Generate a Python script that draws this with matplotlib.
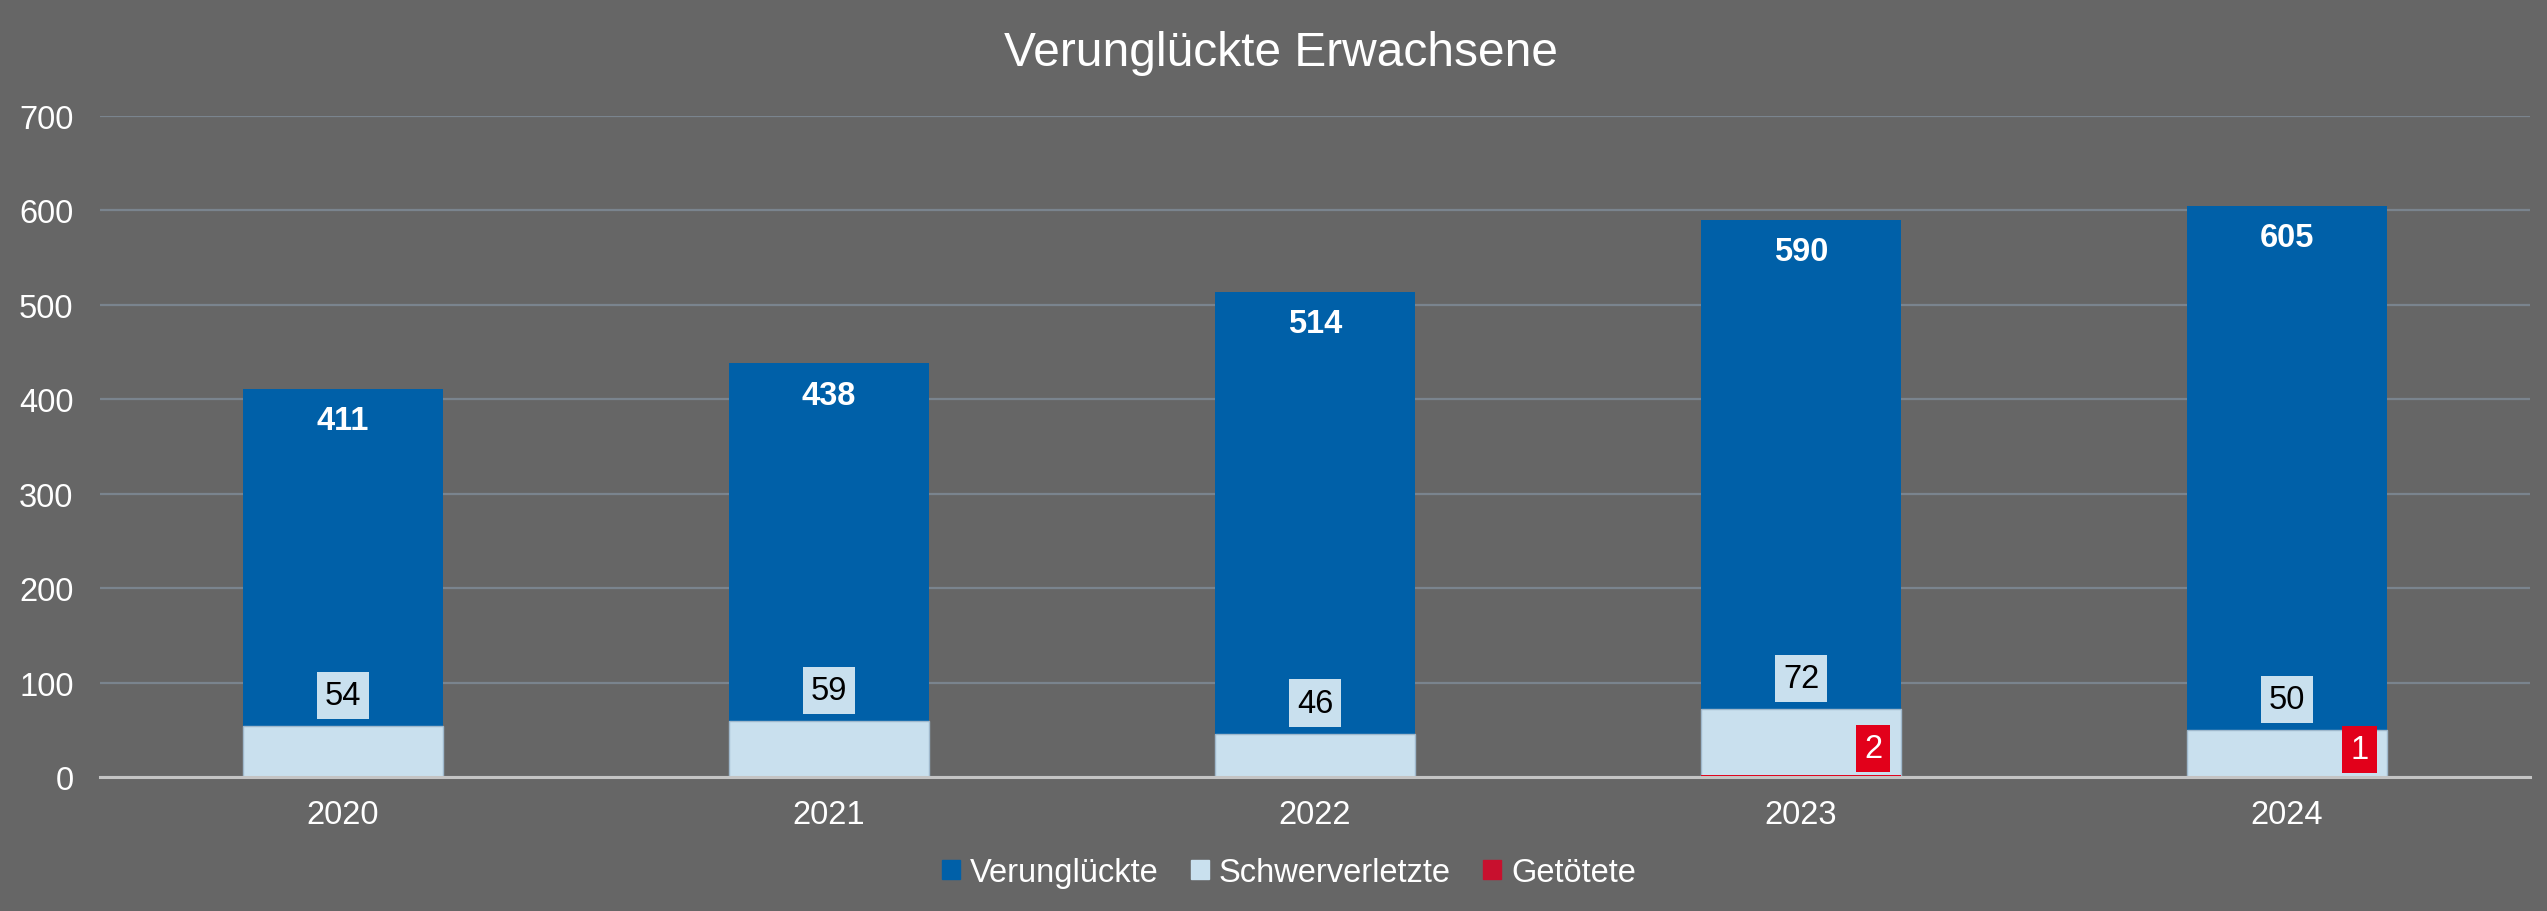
import matplotlib.pyplot as plt
import numpy as np

plt.rcParams['font.family'] = ['Liberation Sans', 'DejaVu Sans']

years = ['2020', '2021', '2022', '2023', '2024']
verunglueckte = [411, 438, 514, 590, 605]
schwerverletzte = [54, 59, 46, 72, 50]
getoetete = [0, 0, 0, 2, 1]

bg = '#666666'
c_blue = '#0060a8'
c_light = '#c9e0ee'
c_red = '#e2001a'
fs = 23.5

fig = plt.figure(figsize=(25.47, 9.12), dpi=100, facecolor=bg)
ax = fig.add_axes([0.03926, 0.1469, 0.95407, 0.7248])
ax.set_facecolor(bg)

x = np.arange(len(years))
w = 0.41
ax.bar(x, verunglueckte, w, color=c_blue, label='Verunglückte', zorder=2)
ax.bar(x, schwerverletzte, w, color=c_light, edgecolor='#9fb8cc', linewidth=1,
       label='Schwerverletzte', zorder=3)
ax.bar(x, getoetete, w, color=c_red, label='Getötete', zorder=4)

ax.set_xlim(-0.5, len(years) - 0.5)
ax.set_ylim(0, 700)
ax.set_yticks(range(0, 701, 100))
ax.set_xticks(x)
ax.set_xticklabels(years)
ax.tick_params(axis='both', length=0, colors='white', labelsize=fs)
ax.tick_params(axis='y', pad=19)
ax.tick_params(axis='x', pad=16)
ax.grid(axis='y', color='#7a848e', linewidth=1.6, zorder=0)
for s in ['top', 'right', 'left']:
    ax.spines[s].set_visible(False)
ax.spines['bottom'].set_color('#c4c4c4')
ax.spines['bottom'].set_linewidth(2.2)
ax.spines['bottom'].set_zorder(5)

# Summenwerte oben im Balken
for i, v in enumerate(verunglueckte):
    ax.annotate(str(v), (x[i], v), xytext=(0, -23), textcoords='offset points',
                ha='center', va='center', color='white', fontsize=fs,
                fontweight='bold', zorder=6)

# Schwerverletzte mit Kasten über dem Balken
for i, v in enumerate(schwerverletzte):
    ax.annotate(str(v), (x[i], v), xytext=(0, 22), textcoords='offset points',
                ha='center', va='center', color='black', fontsize=fs, zorder=6,
                bbox=dict(boxstyle='square,pad=0.25', fc=c_light, ec='none'))

# Getötete rechts unten
for i, v in enumerate(getoetete):
    if v > 0:
        ax.annotate(str(v), (x[i], v), xytext=(52, 19), textcoords='offset points',
                    ha='center', va='center', color='white', fontsize=fs, zorder=6,
                    bbox=dict(boxstyle='square,pad=0.25', fc=c_red, ec='none'))

fig.text(0.503, 0.941, 'Verunglückte Erwachsene', ha='center', va='center',
         color='white', fontsize=34.5)

handles = [plt.Rectangle((0, 0), 1, 1, color=c) for c in [c_blue, c_light, '#c8102e']]
fig.legend(handles, ['Verunglückte', 'Schwerverletzte', 'Getötete'], loc='center',
           bbox_to_anchor=(0.506, 0.042), ncol=3, frameon=False, fontsize=fs,
           labelcolor='white', handlelength=0.55, handleheight=0.55,
           handletextpad=0.3, columnspacing=1.0)

fig.savefig('out.png', dpi=100, facecolor=bg)
